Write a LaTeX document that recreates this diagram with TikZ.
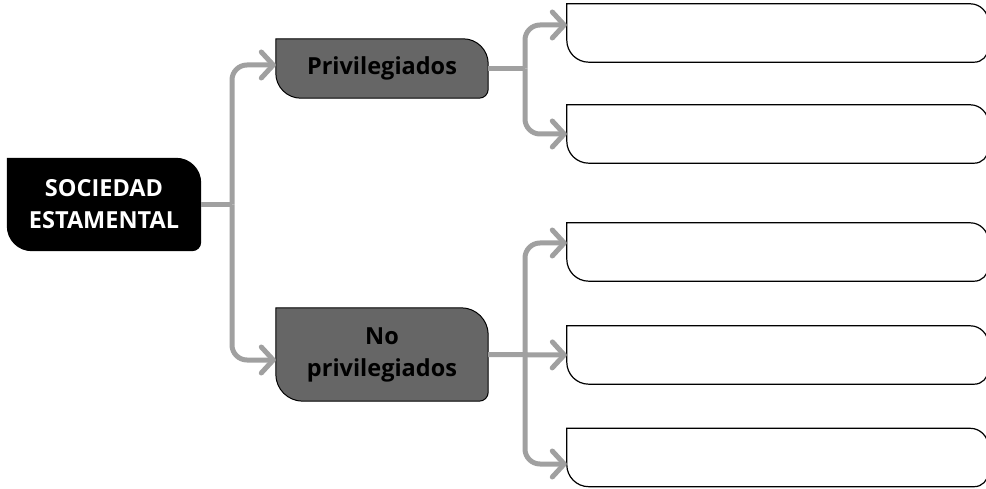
\documentclass[tikz,border=0pt]{standalone}
\usepackage{fontspec}
\setmainfont{Open Sans}
\usetikzlibrary{arrows.meta,backgrounds}
\definecolor{linegray}{HTML}{A0A0A0}
\definecolor{boxgray}{HTML}{666666}
\newcommand\rdbox[4]{%
  \path[#4] (#1.north west) -- ([xshift=-#2]#1.north east)
    arc[start angle=90,end angle=0,radius=#2]
    -- ([yshift=#3]#1.south east)
    arc[start angle=0,end angle=-90,radius=#3]
    -- ([xshift=#2]#1.south west)
    arc[start angle=270,end angle=180,radius=#2] -- cycle;}
\newcommand\openbox[1]{%
  \path[draw=black,line width=1.2pt] (#1.north west) -- ([xshift=-18]#1.north east)
    arc[start angle=90,end angle=0,radius=18]
    -- ([yshift=14]#1.south east)
    arc[start angle=0,end angle=-90,radius=14]
    -- ([xshift=22]#1.south west)
    arc[start angle=270,end angle=180,radius=22] -- cycle;}
\begin{document}
\begin{tikzpicture}[x=1pt,y=1pt,
  txt/.style={inner sep=0pt, align=center, font=\fontsize{23.5}{32}\selectfont\bfseries},
  emptybox/.style={inner sep=0pt, minimum width=421pt, minimum height=58pt},
  conn/.style={draw=linegray, line width=5pt},
  arr/.style={conn, rounded corners=15pt, -{Straight Barb[length=12pt,width=26pt,round]}}]
\useasboundingbox (0,0) rectangle (986,488);
\clip (0,0) rectangle (986,488);
% main nodes
\node[txt, text=white, minimum width=194pt, minimum height=93pt] (root) at (104,283.5) {SOCIEDAD\\ESTAMENTAL};
\node[txt, text=black, minimum width=212pt, minimum height=59pt] (priv) at (382,419.5) {Privilegiados};
\node[txt, text=black, minimum width=212pt, minimum height=93pt] (nopriv) at (382,133.5) {No\\privilegiados};
% answer boxes
\node[emptybox] (b1) at (777.5,455) {};
\node[emptybox] (b2) at (777.5,354) {};
\node[emptybox] (b3) at (777.5,236) {};
\node[emptybox] (b4) at (777.5,133) {};
\node[emptybox] (b5) at (777.5,30.5) {};
\begin{scope}[on background layer]
  \rdbox{root}{25}{9}{fill=black}
  \rdbox{priv}{25}{9}{fill=boxgray, draw=black, line width=1pt}
  \rdbox{nopriv}{27}{9}{fill=boxgray, draw=black, line width=1pt}
\end{scope}
\openbox{b1}\openbox{b2}\openbox{b3}\openbox{b4}\openbox{b5}
% trunks
\coordinate (tl) at (232,0);
\coordinate (tr) at (525,0);
\coordinate (jroot) at (root.east -| tl);
\coordinate (jpriv) at (priv.east -| tr);
\coordinate (jnopriv) at (nopriv.east -| tr);
\draw[conn] (root.east) -- (jroot);
\draw[arr] (jroot) |- ([yshift=3.5]priv.west);
\draw[arr] (jroot) |- ([yshift=-5.5]nopriv.west);
\draw[conn] (priv.east) -- (jpriv);
\draw[arr] (jpriv) |- ([yshift=8]b1.west);
\draw[arr] (jpriv) |- (b2.west);
\draw[arr] (nopriv.east) -- (b4.west);
\draw[arr] (jnopriv) |- ([yshift=9]b3.west);
\draw[arr] (jnopriv) |- ([yshift=-6.5]b5.west);
\end{tikzpicture}
\end{document}
